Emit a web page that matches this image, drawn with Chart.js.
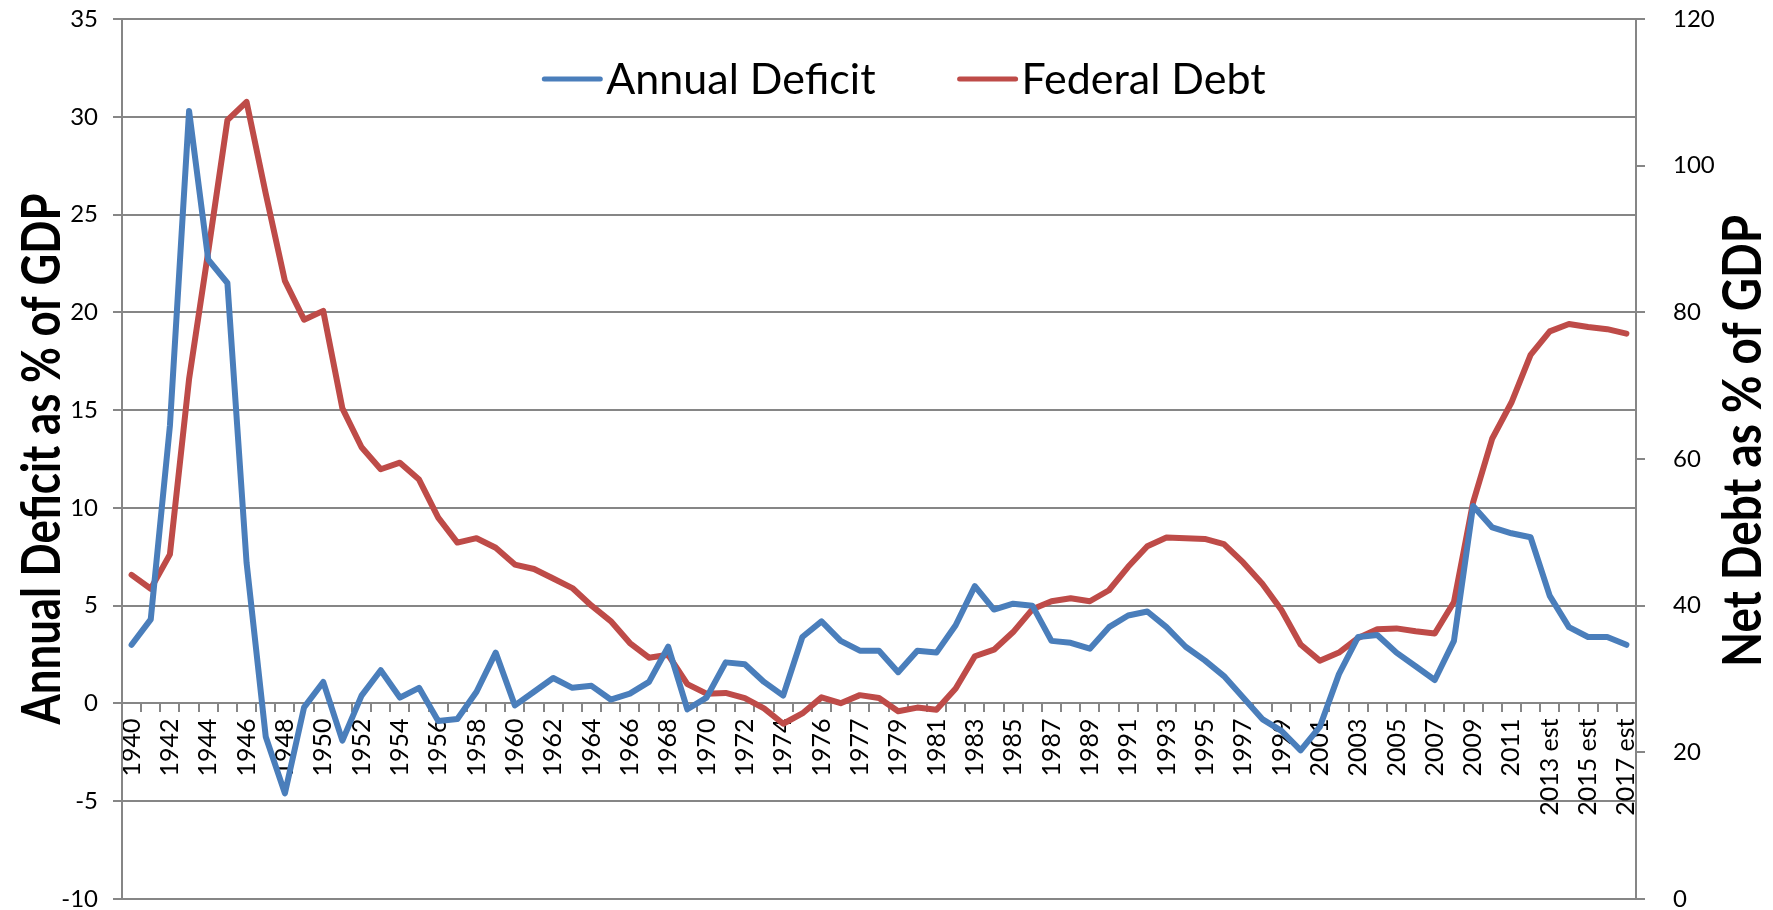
<!DOCTYPE html>
<html>
<head>
    <title>Annual Deficit and Federal Debt</title>
    <script src="https://cdn.jsdelivr.net/npm/chart.js@4.4.0/dist/chart.umd.min.js"></script>
    <style>
        body { margin: 0; background: #fff; }
    </style>
</head>
<body>
    <canvas id="debtChart" width="1773" height="910"></canvas>

    <script>
        // fiscal years, incl. the 1976 transition quarter
        const years = [
            '1940', '1941', '1942', '1943', '1944', '1945', '1946', '1947', '1948', '1949',
            '1950', '1951', '1952', '1953', '1954', '1955', '1956', '1957', '1958', '1959',
            '1960', '1961', '1962', '1963', '1964', '1965', '1966', '1967', '1968', '1969',
            '1970', '1971', '1972', '1973', '1974', '1975', '1976', 'TQ', '1977', '1978', '1979',
            '1980', '1981', '1982', '1983', '1984', '1985', '1986', '1987', '1988', '1989',
            '1990', '1991', '1992', '1993', '1994', '1995', '1996', '1997', '1998', '1999',
            '2000', '2001', '2002', '2003', '2004', '2005', '2006', '2007', '2008', '2009',
            '2010', '2011', '2012 est', '2013 est', '2014 est', '2015 est', '2016 est', '2017 est'
        ];

        // annual deficit, % of GDP (left axis)
        const deficit = [
            3.0, 4.3, 14.2, 30.3, 22.7, 21.5, 7.2, -1.7, -4.6, -0.2,
            1.1, -1.9, 0.4, 1.7, 0.3, 0.8, -0.9, -0.8, 0.6, 2.6,
            -0.1, 0.6, 1.3, 0.8, 0.9, 0.2, 0.5, 1.1, 2.9, -0.3,
            0.3, 2.1, 2.0, 1.1, 0.4, 3.4, 4.2, 3.2, 2.7, 2.7, 1.6,
            2.7, 2.6, 4.0, 6.0, 4.8, 5.1, 5.0, 3.2, 3.1, 2.8,
            3.9, 4.5, 4.7, 3.9, 2.9, 2.2, 1.4, 0.3, -0.8, -1.4,
            -2.4, -1.2, 1.5, 3.4, 3.5, 2.6, 1.9, 1.2, 3.2, 10.1,
            9.0, 8.7, 8.5, 5.5, 3.9, 3.4, 3.4, 3.0
        ];

        // net debt held by the public, % of GDP (right axis)
        const debt = [
            44.2, 42.3, 47.0, 70.9, 88.3, 106.2, 108.7, 96.2, 84.3, 79.0,
            80.2, 66.9, 61.6, 58.6, 59.5, 57.2, 52.0, 48.6, 49.2, 47.9,
            45.6, 45.0, 43.7, 42.4, 40.0, 37.9, 34.9, 32.9, 33.3, 29.3,
            28.0, 28.1, 27.4, 26.0, 23.9, 25.3, 27.5, 26.7, 27.8, 27.4, 25.6,
            26.1, 25.8, 28.7, 33.1, 34.0, 36.4, 39.5, 40.6, 41.0, 40.6,
            42.1, 45.3, 48.1, 49.3, 49.2, 49.1, 48.4, 45.9, 43.0, 39.4,
            34.7, 32.5, 33.6, 35.6, 36.8, 36.9, 36.5, 36.2, 40.5, 54.1,
            62.8, 67.7, 74.2, 77.4, 78.4, 78.0, 77.7, 77.1
        ];

        const leftTitle = 'Annual Deficit as % of GDP';
        const rightTitle = 'Net Debt as % of GDP';
        const leftRange = [-10, 35, 5];
        const rightRange = [0, 120, 20];

        const blue = '#4A7EBB';
        const red = '#BE4B48';
        const gridGray = '#868686';

        Chart.defaults.color = '#000';
        Chart.defaults.font.family = 'Lato';

        // rotated axis title, squeezed along its length like the original
        function drawTitle(ctx, text, x, y, length) {
            ctx.save();
            ctx.font = 'bold 53px Lato';
            const w = ctx.measureText(text).width;
            ctx.translate(x, y);
            ctx.rotate(-Math.PI / 2);
            ctx.scale(length / w, 1);
            ctx.textAlign = 'center';
            ctx.textBaseline = 'alphabetic';
            ctx.fillStyle = '#000';
            ctx.fillText(text, 0, 0);
            ctx.restore();
        }

        const overlay = {
            id: 'overlay',
            afterDraw(chart) {
                const ctx = chart.ctx;
                const area = chart.chartArea;
                const midY = (area.top + area.bottom) / 2;
                drawTitle(ctx, leftTitle, 60, midY, 531);
                drawTitle(ctx, rightTitle, 1761, midY - 18, 452);

                // legend inside the plot, top centre
                ctx.save();
                ctx.font = '43px Lato';
                ctx.textBaseline = 'alphabetic';
                const sample = 56, gap = 6, between = 84;
                const items = chart.data.datasets.map(ds => ({
                    label: ds.label, color: ds.borderColor, w: ctx.measureText(ds.label).width
                }));
                let total = 0;
                items.forEach((it, i) => { total += sample + gap + it.w + (i ? between : 0); });
                let x = (area.left + area.right) / 2 + 26 - total / 2;
                const lineY = area.top + 60;
                items.forEach(it => {
                    ctx.strokeStyle = it.color;
                    ctx.lineWidth = 5;
                    ctx.lineCap = 'round';
                    ctx.beginPath();
                    ctx.moveTo(x, lineY);
                    ctx.lineTo(x + sample, lineY);
                    ctx.stroke();
                    ctx.fillStyle = '#000';
                    ctx.fillText(it.label, x + sample + gap, lineY + 15);
                    x += sample + gap + it.w + between;
                });
                ctx.restore();
            }
        };

        // fixed axis width, and no extra room above/below for the end labels
        function fixAxis(width) {
            return scale => {
                scale.width = width;
                scale.paddingTop = 0;
                scale.paddingBottom = 0;
            };
        }

        const ctx = document.getElementById('debtChart').getContext('2d');
        const debtChart = new Chart(ctx, {
            type: 'line',
            data: {
                labels: years,
                datasets: [{
                    label: 'Annual Deficit',
                    data: deficit,
                    yAxisID: 'y',
                    borderColor: blue,
                    backgroundColor: blue,
                    borderWidth: 6,
                    pointRadius: 0,
                    tension: 0,
                    borderJoinStyle: 'round',
                    borderCapStyle: 'round'
                }, {
                    label: 'Federal Debt',
                    data: debt,
                    yAxisID: 'y1',
                    borderColor: red,
                    backgroundColor: red,
                    borderWidth: 6,
                    pointRadius: 0,
                    tension: 0,
                    borderJoinStyle: 'round',
                    borderCapStyle: 'round'
                }]
            },
            options: {
                responsive: false,
                animation: false,
                layout: { padding: { top: 19, bottom: 11, left: 0, right: 0 } },
                plugins: {
                    legend: { display: false },
                    tooltip: { enabled: false }
                },
                scales: {
                    x: {
                        position: { y: 0 },
                        offset: true,
                        grid: {
                            offset: true,
                            drawOnChartArea: false,
                            drawTicks: true,
                            tickLength: 8,
                            color: gridGray,
                            lineWidth: 2
                        },
                        border: { display: true, color: gridGray, width: 2 },
                        ticks: {
                            autoSkip: false,
                            minRotation: 90,
                            maxRotation: 90,
                            padding: 7,
                            font: { family: '"Liberation Sans Narrow", Lato', size: 25 },
                            callback: (v, i) => (i % 2 === 0 ? years[i] : '')
                        }
                    },
                    y: {
                        position: 'left',
                        min: leftRange[0],
                        max: leftRange[1],
                        afterFit: fixAxis(122),
                        grid: { color: gridGray, lineWidth: 2, tickLength: 9 },
                        border: { display: true, color: gridGray, width: 2 },
                        ticks: {
                            stepSize: leftRange[2],
                            padding: 15,
                            font: { size: 24, lineHeight: 1 }
                        }
                    },
                    y1: {
                        position: 'right',
                        min: rightRange[0],
                        max: rightRange[1],
                        afterFit: fixAxis(137),
                        grid: { drawOnChartArea: false, color: gridGray, lineWidth: 2, tickLength: 9 },
                        border: { display: true, color: gridGray, width: 2 },
                        ticks: {
                            stepSize: rightRange[2],
                            padding: 28,
                            font: { size: 24, lineHeight: 1 }
                        }
                    }
                }
            },
            plugins: [overlay]
        });
    </script>
</body>
</html>
